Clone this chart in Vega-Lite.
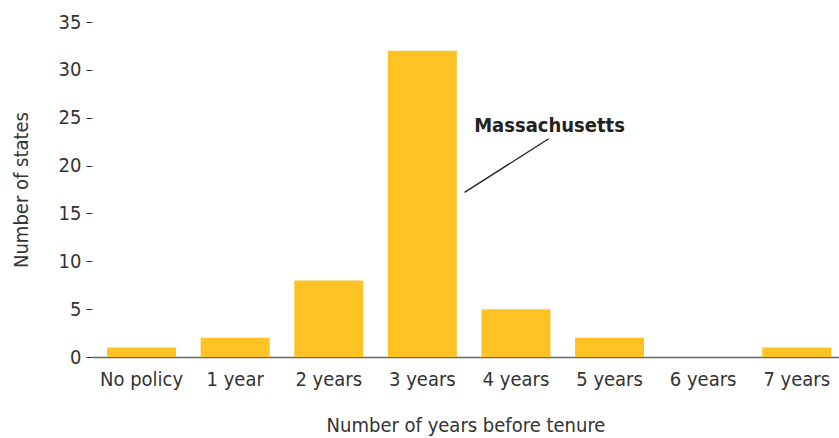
{
  "$schema": "https://vega.github.io/schema/vega-lite/v6.json",
  "width": 747,
  "height": 335,
  "autosize": {"type": "none"},
  "padding": {"left": 92, "top": 22, "right": 0, "bottom": 81},
  "background": "white",
  "config": {
    "view": {"stroke": null},
    "font": "DejaVu Sans Condensed, Roboto, sans-serif",
    "axis": {"labelFont": "DejaVu Sans Condensed, Roboto, sans-serif", "titleFont": "DejaVu Sans Condensed, Roboto, sans-serif"}
  },
  "datasets": {
    "bars": [
      {"category": "No policy", "states": 1},
      {"category": "1 year", "states": 2},
      {"category": "2 years", "states": 8},
      {"category": "3 years", "states": 32},
      {"category": "4 years", "states": 5},
      {"category": "5 years", "states": 2},
      {"category": "6 years", "states": 0},
      {"category": "7 years", "states": 1}
    ],
    "note": [
      {"x1": 3.99, "y1": 17.2, "x2": 4.89, "y2": 22.8, "label": "Massachusetts", "tx": 4.9, "ty": 23.5}
    ]
  },
  "layer": [
    {
      "data": {"name": "bars"},
      "mark": {"type": "bar", "color": "#FDC325"},
      "encoding": {
        "x": {
          "field": "category", "type": "nominal", "sort": null,
          "scale": {"paddingInner": 0.263, "paddingOuter": 0.122, "align": 0.66},
          "axis": {
            "title": "Number of years before tenure",
            "labelAngle": 0, "labelFontSize": 20, "labelColor": "#333",
            "titleFontSize": 20, "titleFontWeight": "normal", "titleColor": "#333",
            "titlePadding": 26,
            "ticks": false, "labelPadding": 12,
            "domainColor": "#666", "domainWidth": 1.5
          }
        },
        "y": {
          "field": "states", "type": "quantitative",
          "scale": {"domain": [0, 35], "nice": false},
          "axis": {
            "title": "Number of states",
            "values": [0, 5, 10, 15, 20, 25, 30, 35],
            "grid": false, "domain": false,
            "tickSize": 6, "tickColor": "#333", "tickWidth": 1,
            "labelPadding": 5, "labelFontSize": 20, "labelColor": "#333",
            "titleFontSize": 20, "titleFontWeight": "normal", "titleColor": "#333",
            "titlePadding": 27
          }
        }
      }
    },
    {
      "data": {"name": "note"},
      "layer": [
        {
          "mark": {"type": "rule", "color": "#222", "strokeWidth": 1.3},
          "encoding": {
            "x": {"field": "x1", "type": "quantitative", "scale": {"domain": [0, 8], "nice": false, "zero": true}, "axis": null},
            "x2": {"field": "x2"},
            "y": {"field": "y1", "type": "quantitative", "scale": {"domain": [0, 35], "nice": false}, "axis": null},
            "y2": {"field": "y2"}
          }
        },
        {
          "mark": {"type": "text", "fontSize": 20, "fontWeight": "bold", "color": "#222", "align": "center", "baseline": "alphabetic"},
          "encoding": {
            "x": {"field": "tx", "type": "quantitative", "scale": {"domain": [0, 8], "nice": false}, "axis": null},
            "y": {"field": "ty", "type": "quantitative", "scale": {"domain": [0, 35], "nice": false}, "axis": null},
            "text": {"field": "label"}
          }
        }
      ]
    }
  ],
  "resolve": {"scale": {"x": "independent"}, "axis": {"x": "independent", "y": "independent"}}
}
